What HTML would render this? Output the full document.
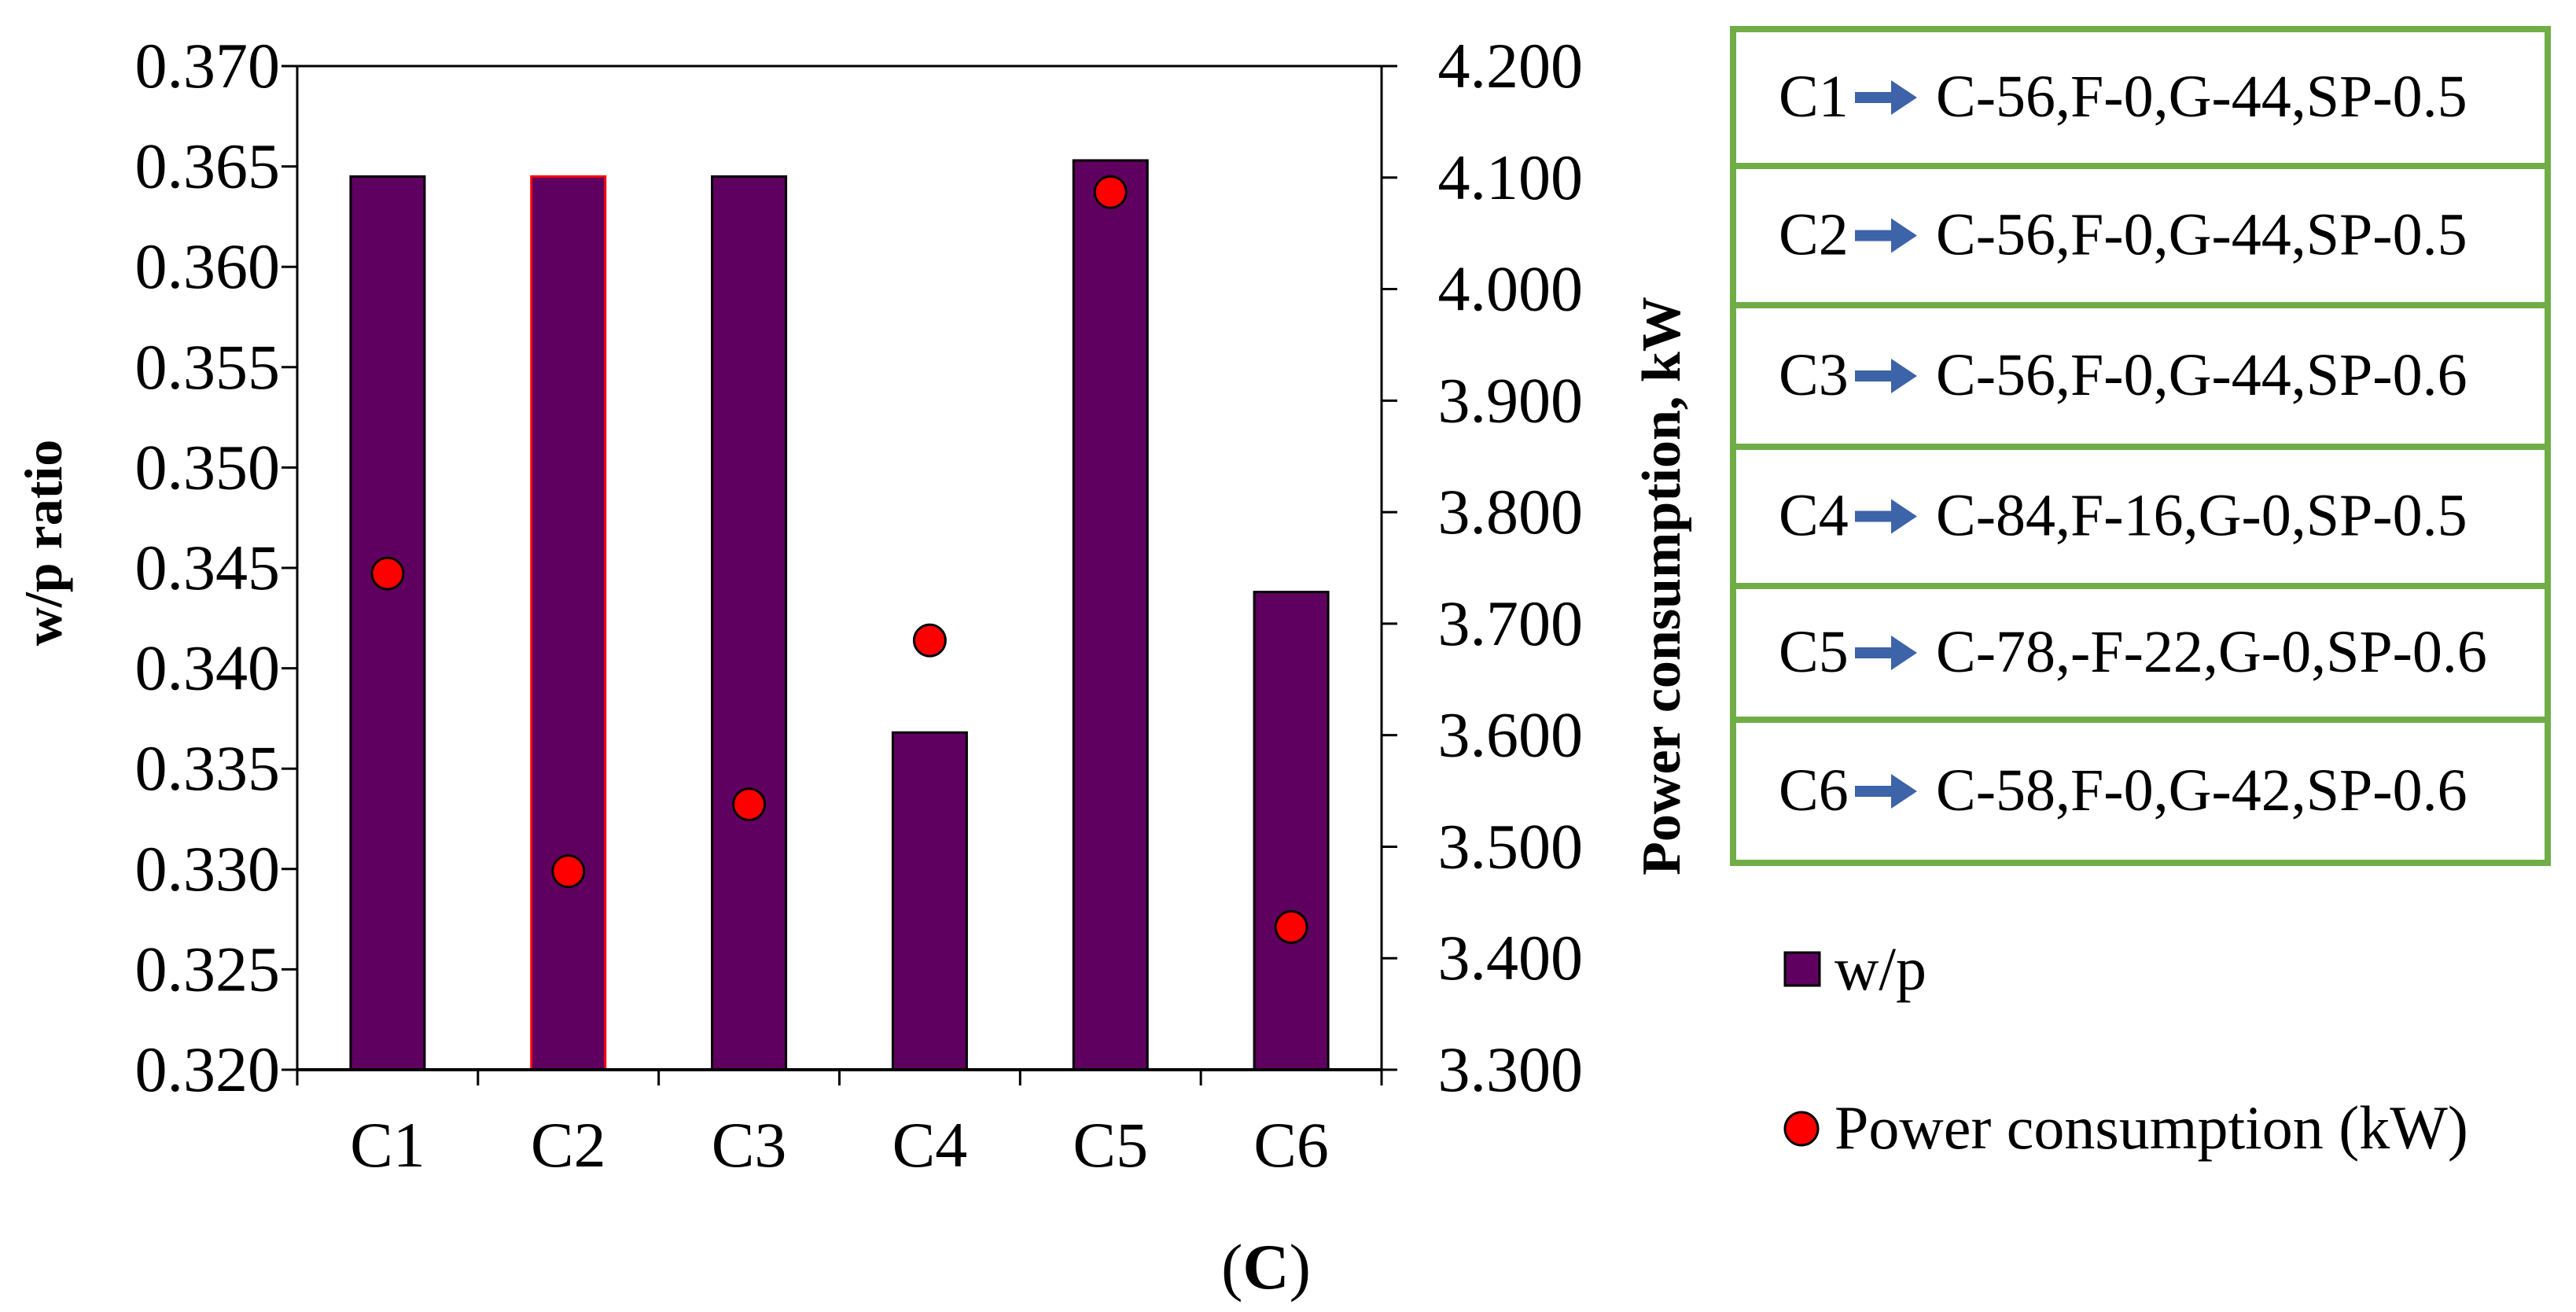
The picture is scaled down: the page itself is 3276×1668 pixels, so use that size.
<!DOCTYPE html>
<html><head><meta charset="utf-8"><style>
html,body{margin:0;padding:0;background:#fff;}
svg{display:block;font-family:"Liberation Serif",serif;}
</style></head><body>
<svg id="chart" width="3276" height="1668" viewBox="0 0 3276 1668">
<g id="plot"></g>
<g id="legendbox"></g>
</svg>
<script>
const categories = ["C1","C2","C3","C4","C5","C6"];
const wpValues = [0.3645,0.3645,0.3645,0.3368,0.3653,0.3438];
const powerValues = [3.745,3.478,3.538,3.685,4.087,3.428];
const leftTicks = ["0.320","0.325","0.330","0.335","0.340","0.345","0.350","0.355","0.360","0.365","0.370"];
const rightTicks = ["3.300","3.400","3.500","3.600","3.700","3.800","3.900","4.000","4.100","4.200"];
const conditionLabels = ["C-56,F-0,G-44,SP-0.5","C-56,F-0,G-44,SP-0.5","C-56,F-0,G-44,SP-0.6","C-84,F-16,G-0,SP-0.5","C-78,-F-22,G-0,SP-0.6","C-58,F-0,G-42,SP-0.6"];

const NS="http://www.w3.org/2000/svg";
const L=378,R=1757,T=84,B=1360;
const yL=v=>B-(v-0.32)/0.05*(B-T);
const yR=v=>B-(v-3.3)/0.9*(B-T);
const cw=(R-L)/categories.length;
const xC=i=>L+cw*(i+0.5);
function mk(tag,attrs,parent,text){const e=document.createElementNS(NS,tag);for(const k in attrs)e.setAttribute(k,attrs[k]);if(text!==undefined)e.textContent=text;parent.appendChild(e);return e;}
const plot=document.getElementById('plot');
const svg=document.getElementById('chart');

categories.forEach((c,i)=>{
  const bw=94;
  const b=mk('rect',{x:xC(i)-bw/2,y:yL(wpValues[i]),width:bw,height:B-yL(wpValues[i]),fill:'#5f0060',stroke:i===1?'#ff0000':'#000','stroke-width':3},plot);
  
  
});
let a=mk('line',{x1:L,y1:T,x2:R,y2:T,stroke:'#000','stroke-width':3},plot);

a=mk('line',{x1:L,y1:T,x2:L,y2:B+20,stroke:'#000','stroke-width':3},plot);

a=mk('line',{x1:R,y1:T,x2:R,y2:B+20,stroke:'#000','stroke-width':3},plot);

a=mk('line',{x1:L,y1:B,x2:R,y2:B,stroke:'#000','stroke-width':4},plot);


leftTicks.forEach(t=>{
  const y=yL(parseFloat(t));
  mk('line',{x1:L-20,y1:y,x2:L,y2:y,stroke:'#000','stroke-width':3},plot);
  const tx=mk('text',{x:L-22,y:y+27,'font-size':82,'text-anchor':'end',fill:'#000'},plot,t);
  
  
});
rightTicks.forEach(t=>{
  const y=yR(parseFloat(t));
  mk('line',{x1:R,y1:y,x2:R+20,y2:y,stroke:'#000','stroke-width':3},plot);
  const tx=mk('text',{x:2013,y:y+27,'font-size':82,'text-anchor':'end',fill:'#000'},plot,t);
  
  
});
for(let i=0;i<=categories.length;i++){
  mk('line',{x1:L+cw*i,y1:B,x2:L+cw*i,y2:B+20,stroke:'#000','stroke-width':3},plot);
}
categories.forEach((c,i)=>{
  const tx=mk('text',{x:xC(i),y:1483,'font-size':82,'text-anchor':'middle',fill:'#000'},plot,c);
  
  
});
categories.forEach((c,i)=>{
  const d=mk('circle',{cx:xC(i),cy:yR(powerValues[i]),r:20,fill:'#ff0000',stroke:'#000','stroke-width':3},plot);
  
  
});
let t=mk('text',{x:0,y:0,'font-size':68,'font-weight':'bold','text-anchor':'middle',transform:'translate(78,690) rotate(-90)'},svg,'w/p ratio');

t=mk('text',{x:0,y:0,'font-size':70,'font-weight':'bold','text-anchor':'middle',transform:'translate(2136,745) rotate(-90)'},svg,'Power consumption, kW');

t=mk('text',{x:1610,y:1638,'font-size':82,'text-anchor':'middle'},svg,'');

mk('tspan',{},t,'(');mk('tspan',{'font-weight':'bold'},t,'C');mk('tspan',{},t,')');

const lb=document.getElementById('legendbox');
const rowY=[37,211,388,568,745,915,1097];
conditionLabels.forEach((lab,i)=>{
  const r=mk('rect',{x:2204,y:rowY[i],width:1036,height:rowY[i+1]-rowY[i],fill:'none',stroke:'#70ad47','stroke-width':8},lb);
  
  
  const cy=(rowY[i]+rowY[i+1])/2;
  mk('text',{x:2262,y:cy+24,'font-size':76},lb,categories[i]);
  mk('polygon',{points:`2359,${cy-7} 2405,${cy-7} 2405,${cy-22} 2438,${cy} 2405,${cy+22} 2405,${cy+7} 2359,${cy+7}`,fill:'#3d63a8'},lb);
  const tx=mk('text',{x:2462,y:cy+24,'font-size':76},lb,lab);
  
  
});
let s=mk('rect',{x:2270,y:1211,width:44,height:42,fill:'#5f0060',stroke:'#000','stroke-width':3},svg);

s=mk('text',{x:2333,y:1258,'font-size':78},svg,'w/p');

s=mk('circle',{cx:2291,cy:1435,r:21,fill:'#ff0000',stroke:'#000','stroke-width':3},svg);

s=mk('text',{x:2333,y:1460,'font-size':78},svg,'Power consumption (kW)');

</script>
</body></html>
